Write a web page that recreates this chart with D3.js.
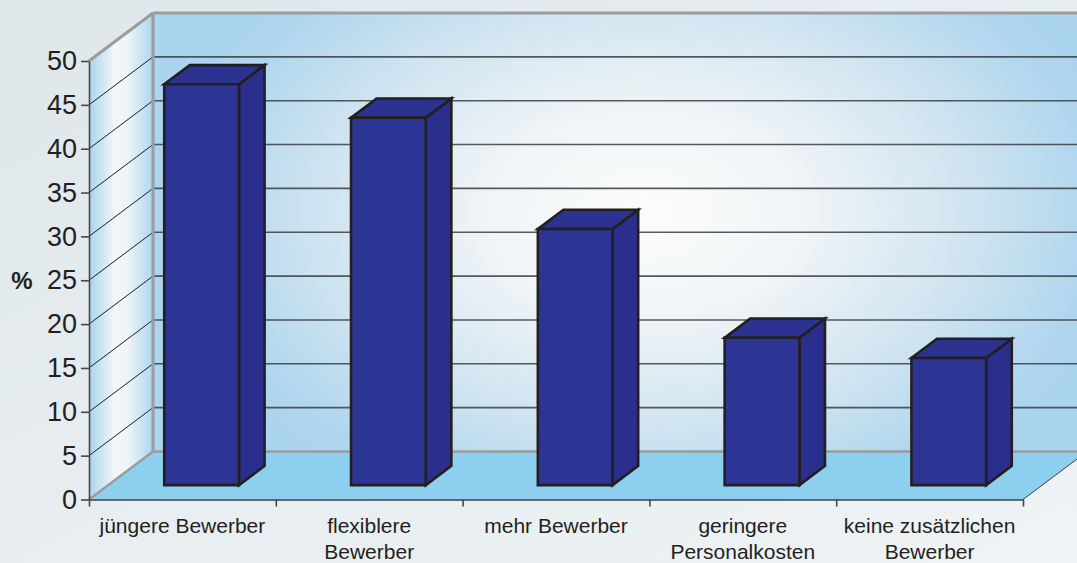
<!DOCTYPE html>
<html>
<head>
<meta charset="utf-8">
<script src="https://cdn.jsdelivr.net/npm/d3@7/dist/d3.min.js"></script>
<style>
  html, body { margin: 0; padding: 0; background: #e8eef1; }
  svg { display: block; }
  text { font-family: "Liberation Sans", Arial, Helvetica, sans-serif; fill: #231f20; }
</style>
</head>
<body>
<svg id="chart" width="1077" height="563"></svg>
<script>
// Survey answers (percent of respondents)
const categories = ["jüngere Bewerber", "flexiblere\nBewerber", "mehr Bewerber", "geringere\nPersonalkosten", "keine zusätzlichen\nBewerber"];
const values = [45.7, 41.9, 29.2, 16.8, 14.5];
const yTicks = [0, 5, 10, 15, 20, 25, 30, 35, 40, 45, 50];
const yLabel = "%";

const svg = d3.select("#chart");
const width = 1077, height = 563;

// Front plane origin, plot size and depth vector of the 3D box
const X0 = 89, Y0 = 499.5, W = 934, H = 438.5;
const DX = 64, DY = -48;

const x = d3.scaleBand().domain(categories).range([0, W]).paddingInner(0.6).paddingOuter(0.3);
const y = d3.scaleLinear().domain([0, 50]).range([0, H]);
const proj = (px, v, z) => [X0 + px + z * DX, Y0 - y(v) + z * DY];
const pts = arr => arr.map(p => p.join(",")).join(" ");

const defs = svg.append("defs");

const bg = defs.append("linearGradient").attr("id", "bg")
  .attr("x1", 0).attr("y1", 0).attr("x2", 1).attr("y2", 1);
bg.append("stop").attr("offset", 0).attr("stop-color", "#dfe7eb");
bg.append("stop").attr("offset", 1).attr("stop-color", "#eff3f5");

const back = defs.append("radialGradient").attr("id", "backwall")
  .attr("gradientUnits", "userSpaceOnUse")
  .attr("cx", 0).attr("cy", 0).attr("r", 1)
  .attr("gradientTransform", "translate(645,215) scale(500,330)");
back.append("stop").attr("offset", 0).attr("stop-color", "#fbfcfc");
back.append("stop").attr("offset", 0.3).attr("stop-color", "#f1f5f7");
back.append("stop").attr("offset", 0.65).attr("stop-color", "#cfe4f0");
back.append("stop").attr("offset", 0.9).attr("stop-color", "#b0d6ee");
back.append("stop").attr("offset", 1).attr("stop-color", "#abd4ee");

const side = defs.append("linearGradient").attr("id", "sidewall")
  .attr("gradientUnits", "userSpaceOnUse")
  .attr("x1", X0).attr("y1", 0).attr("x2", X0 + DX).attr("y2", 0);
side.append("stop").attr("offset", 0).attr("stop-color", "#a9d4ee");
side.append("stop").attr("offset", 0.15).attr("stop-color", "#c4e1f2");
side.append("stop").attr("offset", 0.4).attr("stop-color", "#f3f6f8");
side.append("stop").attr("offset", 0.6).attr("stop-color", "#eef4f7");
side.append("stop").attr("offset", 1).attr("stop-color", "#aed6ee");

svg.append("rect").attr("width", width).attr("height", height).attr("fill", "url(#bg)");

// Walls and floor
const zMax = 50;
svg.append("polygon")
  .attr("points", pts([proj(0, 0, 1), proj(W, 0, 1), proj(W, zMax, 1), proj(0, zMax, 1)]))
  .attr("fill", "url(#backwall)");
svg.append("polygon")
  .attr("points", pts([proj(0, 0, 0), proj(0, 0, 1), proj(0, zMax, 1), proj(0, zMax, 0)]))
  .attr("fill", "url(#sidewall)");
svg.append("polygon")
  .attr("points", pts([proj(0, 0, 0), proj(W, 0, 0), proj(W, 0, 1), proj(0, 0, 1)]))
  .attr("fill", "#8dcfee");

// Gridlines on back wall and side wall
const inner = yTicks.filter(t => t > 0 && t < 50);
svg.append("g").selectAll("line").data(inner).join("line")
  .attr("x1", d => proj(0, d, 1)[0]).attr("y1", d => proj(0, d, 1)[1])
  .attr("x2", d => proj(W, d, 1)[0]).attr("y2", d => proj(W, d, 1)[1])
  .attr("stroke", "#2f3338").attr("stroke-width", 1.6).attr("stroke-opacity", 0.8);
svg.append("g").selectAll("line").data(inner).join("line")
  .attr("x1", d => proj(0, d, 0)[0]).attr("y1", d => proj(0, d, 0)[1])
  .attr("x2", d => proj(0, d, 1)[0]).attr("y2", d => proj(0, d, 1)[1])
  .attr("stroke", "#1e1e1e").attr("stroke-width", 1);

// Wall edges
const edge = (a, b, color, w) => svg.append("line")
  .attr("x1", a[0]).attr("y1", a[1]).attr("x2", b[0]).attr("y2", b[1])
  .attr("stroke", color).attr("stroke-width", w);
edge(proj(0, zMax, 1), proj(W, zMax, 1), "#9a9c9e", 3);
edge(proj(0, 0, 1), proj(0, zMax, 1), "#9a9c9e", 3);
edge(proj(0, zMax, 0), proj(0, zMax, 1), "#9a9c9e", 3);
edge(proj(0, 0, 1), proj(W, 0, 1), "#9a9c9e", 2.5);
edge(proj(0, 0, 0), proj(0, 0, 1), "#9a9c9e", 2.5);
edge(proj(W, 0, 0), proj(W, 0, 1), "#3a3d40", 1);

// Bars as 3D boxes
const z0 = 0.3, z1 = 0.7;
const bars = svg.append("g").selectAll("g").data(categories.map((c, i) => ({ c, v: values[i] }))).join("g")
  .attr("stroke", "#231f20").attr("stroke-width", 2.6).attr("stroke-linejoin", "miter");
bars.append("polygon")
  .attr("fill", "#2a2e8c")
  .attr("points", d => {
    const xr = x(d.c) + x.bandwidth();
    return pts([proj(xr, 0, z0), proj(xr, 0, z1), proj(xr, d.v, z1), proj(xr, d.v, z0)]);
  });
bars.append("polygon")
  .attr("fill", "#2b3290")
  .attr("points", d => {
    const xl = x(d.c), xr = xl + x.bandwidth();
    return pts([proj(xl, d.v, z0), proj(xr, d.v, z0), proj(xr, d.v, z1), proj(xl, d.v, z1)]);
  });
bars.append("polygon")
  .attr("fill", "#2c3594")
  .attr("points", d => {
    const xl = x(d.c), xr = xl + x.bandwidth();
    return pts([proj(xl, 0, z0), proj(xr, 0, z0), proj(xr, d.v, z0), proj(xl, d.v, z0)]);
  });

// Value axis on the front plane
const yAxisScale = d3.scaleLinear().domain([0, 50]).range([Y0, Y0 - H]);
const yAxis = svg.append("g").attr("transform", `translate(${X0},0)`)
  .call(d3.axisLeft(yAxisScale).tickValues(yTicks).tickSize(8).tickPadding(4).tickSizeOuter(0));
yAxis.select(".domain").attr("stroke", "#45484b").attr("stroke-width", 1.6);
yAxis.selectAll(".tick line").attr("stroke", "#45484b").attr("stroke-width", 1.6);
yAxis.selectAll(".tick text").attr("font-size", 27).attr("fill", "#231f20")
  .style("font-family", '"Liberation Sans", Arial, sans-serif');

svg.append("text").attr("x", 22).attr("y", 281).attr("dy", "0.35em")
  .attr("text-anchor", "middle").attr("font-size", 24).attr("font-weight", "bold")
  .text(yLabel);

// Category axis with boundary ticks
const bScale = d3.scaleLinear().domain([0, categories.length]).range([X0, X0 + W]);
const xAxis = svg.append("g").attr("transform", `translate(0,${Y0})`)
  .call(d3.axisBottom(bScale).tickValues(d3.range(categories.length + 1)).tickFormat("").tickSize(7).tickSizeOuter(0));
xAxis.select(".domain").attr("stroke", "#3a3d40").attr("stroke-width", 1.6);
xAxis.selectAll(".tick line").attr("stroke", "#45484b").attr("stroke-width", 1.6);

const labels = svg.append("g").selectAll("text").data(categories).join("text")
  .attr("text-anchor", "middle").attr("font-size", 21)
  .attr("x", d => X0 + x(d) + x.bandwidth() / 2);
labels.selectAll("tspan").data(d => d.split("\n")).join("tspan")
  .attr("x", function () { return this.parentNode.getAttribute("x"); })
  .attr("y", (d, i) => 532.5 + i * 26.7)
  .text(d => d);
</script>
</body>
</html>
